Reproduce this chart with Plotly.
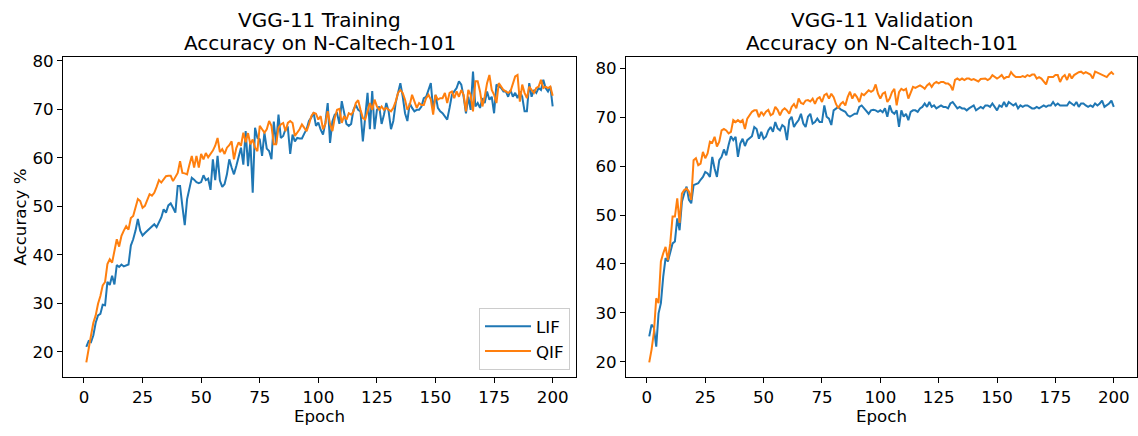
import plotly.graph_objects as go

epochs = list(range(1, 201))

train_lif = [
    21.0, 22.2, 22.0, 23.4, 26.0, 27.5, 27.8, 29.7, 29.6, 34.4,
    33.8, 35.7, 33.9, 37.9, 37.5, 38.0, 37.6, 37.8, 38.0, 41.9,
    43.2, 45.0, 47.4, 45.0, 44.0, 44.5, 45.0, 45.4, 46.0, 46.3,
    45.7, 46.8, 47.7, 49.4, 48.7, 50.2, 50.6, 49.7, 48.7, 54.2,
    54.2, 50.0, 46.1, 51.5, 54.0, 55.9, 55.5, 55.0, 54.8, 55.0,
    56.4, 55.4, 55.7, 53.4, 59.7, 55.4, 60.4, 55.3, 54.0, 54.6,
    56.6, 59.7, 58.0, 56.6, 58.3, 60.0, 62.1, 58.6, 65.5, 58.3,
    63.4, 52.8, 66.2, 64.1, 63.8, 60.4, 65.2, 61.9, 61.4, 59.7,
    67.5, 62.8, 68.9, 64.1, 64.5, 65.9, 66.2, 60.8, 64.8, 63.4,
    64.1, 64.0, 64.0, 65.0, 65.9, 67.6, 68.3, 69.3, 66.6, 67.3,
    65.8, 64.8, 67.2, 71.3, 63.1, 67.5, 68.9, 69.2, 67.0, 71.7,
    68.9, 67.0, 66.6, 67.0, 69.9, 70.9, 69.9, 69.6, 63.4, 68.6,
    73.4, 65.9, 73.8, 65.9, 69.9, 70.6, 67.0, 68.9, 71.3, 69.6,
    65.9, 67.6, 71.3, 73.4, 75.4, 72.7, 69.2, 67.6, 71.3, 70.3,
    69.6, 69.9, 69.9, 70.6, 72.3, 72.6, 74.0, 75.4, 69.9, 73.0,
    70.3, 69.6, 69.2, 68.6, 67.9, 70.3, 73.0, 73.7, 74.4, 75.8,
    75.1, 72.6, 69.2, 72.6, 69.9, 77.8, 70.6, 71.3, 70.3, 72.3,
    71.3, 73.7, 72.0, 72.6, 69.2, 75.1, 74.7, 74.4, 73.7, 73.7,
    72.6, 74.0, 72.6, 73.4, 72.3, 73.7, 72.6, 69.6, 69.6, 75.4,
    72.6, 74.0, 73.4, 74.4, 74.0, 76.1, 74.4, 73.7, 74.7, 70.6,
]

train_qif = [
    17.8, 21.0, 23.4, 26.0, 27.5, 29.9, 31.5, 33.7, 34.4, 38.1,
    39.1, 38.4, 40.5, 43.2, 41.7, 43.9, 45.0, 45.9, 45.2, 47.6,
    48.0, 49.5, 51.5, 51.1, 49.7, 50.1, 51.5, 52.5, 52.2, 52.8,
    54.0, 55.4, 54.9, 55.5, 56.2, 56.3, 56.3, 55.2, 56.0, 56.9,
    59.3, 56.9, 56.8, 56.6, 58.6, 60.4, 58.0, 60.4, 58.0, 60.8,
    59.7, 61.0, 60.1, 60.8, 61.5, 62.5, 64.1, 61.2, 61.8, 60.8,
    62.1, 62.6, 63.4, 59.7, 62.0, 63.2, 62.5, 65.2, 63.2, 65.1,
    62.8, 63.8, 62.1, 61.4, 66.6, 65.9, 65.2, 65.9, 67.6, 66.6,
    62.8, 62.8, 66.2, 66.9, 67.2, 65.5, 67.2, 67.6, 67.2, 64.5,
    65.2, 65.9, 66.9, 66.2, 65.5, 66.9, 68.6, 69.3, 69.1, 67.9,
    68.6, 65.9, 67.0, 69.6, 67.0, 65.5, 68.2, 69.9, 70.1, 67.2,
    68.6, 67.9, 69.2, 68.9, 69.6, 71.3, 71.9, 69.9, 68.2, 67.9,
    69.9, 71.3, 69.9, 72.0, 70.6, 69.9, 70.6, 69.9, 70.3, 69.9,
    69.6, 70.3, 71.6, 73.4, 74.0, 73.4, 72.0, 69.9, 70.9, 73.0,
    71.6, 70.3, 71.3, 70.9, 70.9, 72.3, 73.0, 72.0, 68.9, 73.0,
    72.0, 72.3, 72.3, 73.4, 71.3, 73.4, 73.7, 72.3, 73.7, 72.6,
    74.0, 73.0, 69.6, 74.0, 73.0, 69.6, 75.8, 75.8, 73.7, 70.6,
    72.6, 75.4, 77.1, 74.0, 73.0, 71.3, 75.4, 74.7, 74.0, 73.7,
    73.4, 73.7, 75.1, 76.8, 77.1, 71.6, 75.1, 73.4, 72.3, 74.7,
    74.0, 73.4, 74.4, 74.7, 76.1, 74.4, 74.7, 74.4, 74.7, 72.8,
]

val_lif = [
    25.2, 27.6, 27.0, 23.1, 29.9, 32.0, 37.4, 41.2, 40.5, 42.5,
    44.2, 44.6, 49.3, 46.9, 52.7, 54.4, 55.8, 53.1, 52.4, 56.1,
    56.3, 56.5, 57.2, 57.8, 58.8, 58.5, 57.8, 61.9, 59.5, 57.8,
    61.2, 61.9, 63.4, 62.2, 64.3, 66.1, 65.3, 66.0, 61.9, 64.6,
    65.6, 64.1, 65.3, 65.8, 66.1, 68.0, 67.6, 65.6, 67.0, 65.6,
    66.0, 67.3, 68.0, 67.0, 69.0, 67.7, 67.3, 68.4, 68.0, 65.3,
    69.4, 70.1, 68.0, 68.8, 69.4, 70.7, 68.7, 68.0, 70.1, 70.7,
    68.7, 69.0, 69.7, 69.0, 69.0, 72.4, 70.1, 69.7, 68.4, 71.4,
    71.8, 72.1, 71.6, 71.4, 71.1, 70.4, 70.1, 70.4, 70.7, 70.7,
    72.1, 72.4, 71.8, 71.1, 70.7, 71.4, 71.5, 71.4, 71.1, 71.4,
    71.0, 71.8, 70.1, 72.4, 71.1, 70.7, 71.4, 68.0, 71.4, 70.1,
    70.7, 69.4, 71.1, 71.4, 71.4, 71.1, 71.8, 72.1, 72.8, 72.1,
    73.1, 72.1, 72.4, 71.8, 72.1, 72.4, 72.1, 72.1, 71.8, 72.8,
    73.1, 72.4, 71.8, 72.1, 71.8, 71.8, 71.4, 71.8, 72.1, 72.4,
    71.4, 71.8, 72.1, 71.8, 72.4, 72.4, 72.1, 72.8, 72.1, 71.4,
    72.4, 72.1, 73.1, 72.1, 73.1, 72.8, 72.4, 72.8, 71.8, 72.4,
    72.1, 72.4, 72.4, 72.1, 71.8, 71.8, 72.1, 71.8, 72.1, 72.4,
    72.1, 72.4, 72.4, 73.1, 72.4, 72.8, 72.4, 72.4, 72.4, 72.4,
    73.1, 72.8, 72.4, 73.1, 72.1, 72.8, 72.8, 72.4, 72.1, 72.4,
    72.1, 72.8, 72.4, 72.8, 73.4, 72.1, 72.4, 72.8, 73.4, 72.1,
]

val_qif = [
    19.9, 22.5, 26.0, 33.0, 32.0, 40.5, 42.2, 43.5, 40.8, 44.2,
    49.7, 49.7, 53.4, 48.4, 54.4, 55.1, 55.4, 54.8, 53.1, 61.2,
    61.6, 60.2, 60.5, 62.9, 61.6, 62.6, 65.0, 64.8, 66.0, 64.0,
    65.0, 67.3, 67.6, 67.3, 66.7, 67.0, 69.4, 69.0, 69.4, 69.0,
    69.4, 67.6, 69.7, 70.4, 71.1, 71.4, 71.4, 70.0, 71.1, 70.4,
    71.1, 71.5, 70.4, 70.7, 72.1, 71.5, 70.4, 71.4, 71.8, 71.4,
    70.7, 72.1, 72.7, 71.8, 73.8, 72.9, 72.7, 73.4, 73.5, 73.2,
    73.8, 72.7, 73.8, 74.1, 73.1, 74.5, 74.8, 73.8, 74.8, 74.1,
    72.7, 71.8, 72.7, 73.1, 72.4, 74.1, 75.2, 73.8, 74.8, 74.1,
    73.1, 74.8, 74.5, 75.0, 75.5, 75.2, 75.5, 76.7, 74.8, 73.8,
    74.8, 75.1, 73.1, 73.8, 75.1, 75.8, 72.4, 75.1, 75.8, 75.5,
    75.8, 73.8, 75.1, 76.2, 76.0, 76.2, 76.5, 76.2, 75.8, 76.5,
    76.9, 76.2, 76.9, 77.2, 76.9, 77.2, 77.2, 76.9, 76.9, 76.5,
    75.5, 77.6, 77.9, 77.6, 77.9, 77.6, 77.9, 77.9, 77.6, 77.8,
    77.6, 77.3, 77.8, 77.9, 77.9, 77.6, 77.9, 78.6, 78.2, 77.9,
    78.2, 78.6, 77.9, 78.2, 78.2, 79.2, 78.6, 78.2, 78.2, 78.2,
    78.4, 78.2, 78.6, 78.4, 78.7, 78.7, 77.9, 78.2, 77.9, 77.2,
    76.7, 78.2, 78.2, 78.2, 78.6, 78.6, 77.2, 78.2, 78.6, 77.6,
    78.9, 77.9, 78.6, 78.9, 79.2, 79.3, 78.9, 79.2, 78.9, 78.7,
    77.9, 79.3, 79.1, 78.9, 78.6, 78.4, 78.2, 78.8, 79.2, 78.7,
]

series_names = ["LIF", "QIF"]
colors = ["#1f77b4", "#ff7f0e"]
title_lines = [["VGG-11 Training", "Accuracy on N-Caltech-101"],
               ["VGG-11 Validation", "Accuracy on N-Caltech-101"]]
x_ticks = [0, 25, 50, 75, 100, 125, 150, 175, 200]
y_ticks = [20, 30, 40, 50, 60, 70, 80]

W, H = 1138, 436
FONT = "DejaVu Sans"
FS = 16.67

fig = go.Figure()
for i, (name, ys) in enumerate(zip(series_names, [train_lif, train_qif])):
    fig.add_trace(go.Scatter(x=epochs, y=ys, mode="lines", name=name,
                             line=dict(color=colors[i], width=2),
                             xaxis="x", yaxis="y", showlegend=True))
for i, (name, ys) in enumerate(zip(series_names, [val_lif, val_qif])):
    fig.add_trace(go.Scatter(x=epochs, y=ys, mode="lines", name=name,
                             line=dict(color=colors[i], width=2),
                             xaxis="x2", yaxis="y2", showlegend=False))

def px_x(p):
    return p / W

def px_y(p):
    return 1 - p / H

axis_common = dict(showline=True, linecolor="black", linewidth=1, mirror=True,
                   ticks="outside", ticklen=5, tickwidth=1, tickcolor="black",
                   showgrid=False, zeroline=False, automargin=False,
                   tickfont=dict(family=FONT, size=FS, color="black"))

fig.update_layout(
    width=W, height=H,
    margin=dict(l=0, r=0, t=0, b=0),
    paper_bgcolor="white", plot_bgcolor="white",
    font=dict(family=FONT, size=FS, color="black"),
    xaxis=dict(domain=[px_x(63), px_x(576)], range=[-8.95, 209.95],
               tickvals=x_ticks, anchor="y",
               title=dict(text="Epoch", font=dict(family=FONT, size=FS), standoff=1),
               **axis_common),
    yaxis=dict(domain=[px_y(377), px_y(57)], range=[14.8, 80.8],
               tickvals=y_ticks, anchor="x",
               title=dict(text="Accuracy %", font=dict(family=FONT, size=FS), standoff=1),
               **axis_common),
    xaxis2=dict(domain=[px_x(626), px_x(1137)], range=[-8.95, 209.95],
                tickvals=x_ticks, anchor="y2",
                title=dict(text="Epoch", font=dict(family=FONT, size=FS), standoff=1),
                **axis_common),
    yaxis2=dict(domain=[px_y(377), px_y(57)], range=[16.9, 82.3],
                tickvals=y_ticks, anchor="x2",
                **axis_common),
    legend=dict(x=px_x(570), y=px_y(370), xanchor="right", yanchor="bottom",
                bgcolor="rgba(255,255,255,0.8)", bordercolor="#cccccc", borderwidth=1,
                font=dict(family=FONT, size=FS, color="black"),
                itemwidth=46, tracegroupgap=0),
)

centers = [(63 + 576) / 2, (626 + 1137) / 2]
for c, lines in zip(centers, title_lines):
    for yc, t in zip([20, 43], lines):
        fig.add_annotation(x=px_x(c), y=px_y(yc), xref="paper", yref="paper",
                           text=t, showarrow=False, xanchor="center", yanchor="middle",
                           font=dict(family=FONT, size=20, color="black"))

fig.write_html("out.html", config={"displayModeBar": False},
               post_script="document.body.style.margin='0';document.body.style.overflow='hidden';")
